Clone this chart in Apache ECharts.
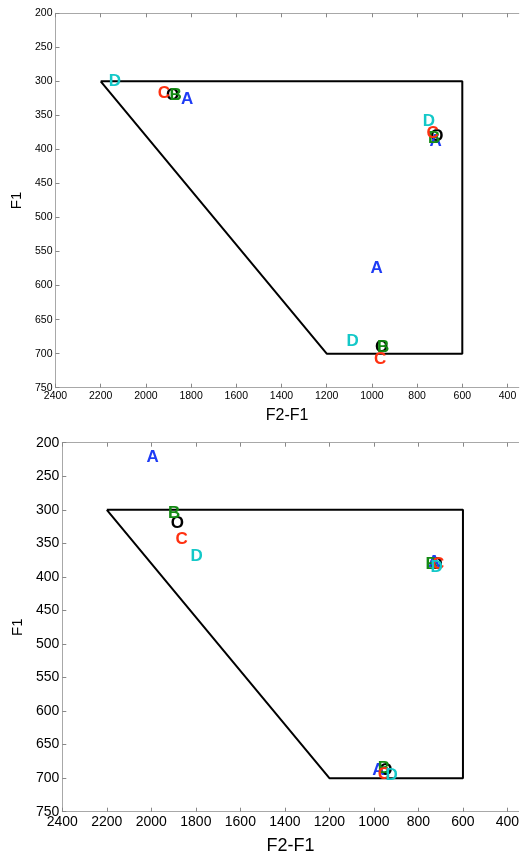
<!DOCTYPE html>
<html>
<head>
<meta charset="utf-8">
<script src="https://cdn.jsdelivr.net/npm/echarts@6/dist/echarts.min.js"></script>
<style>
  html, body { margin: 0; padding: 0; background: #ffffff; }
  #chart { width: 520px; height: 855px; }
</style>
</head>
<body>
<div id="chart"></div>
<script>
// Vowel region boundary in the (F2-F1, F1) plane
const boundaryF2F1 = [2200, 600, 600, 1200, 2200];
const boundaryF1   = [300, 300, 700, 700, 300];

// Tick values
const xTickValues = [400, 600, 800, 1000, 1200, 1400, 1600, 1800, 2000, 2200, 2400];
const yTickValues = [200, 250, 300, 350, 400, 450, 500, 550, 600, 650, 700, 750];

// Speaker labels, drawn in this order
const speakers = ['O', 'A', 'B', 'C', 'D'];

// Upper panel: [F2-F1, F1] for each speaker, three vowels each
const upperO = [[1882, 320], [713, 380], [957, 690]];
const upperA = [[1818, 326], [718, 388], [979, 574]];
const upperB = [[1868, 320], [725, 383], [950, 690]];
const upperC = [[1920, 317], [731, 377], [964, 709]];
const upperD = [[2137, 300], [748, 359], [1085, 682]];

// Lower panel: [F2-F1, F1] for each speaker, three vowels each
const lowerO = [[1883, 320], [721, 382], [946, 688]];
const lowerA = [[1994, 222], [729, 378], [980, 689]];
const lowerB = [[1897, 305], [741, 381], [955, 685]];
const lowerC = [[1864, 344], [711, 381], [955, 694]];
const lowerD = [[1796, 370], [718, 385], [920, 696]];

const speakerColors = {
  O: '#000000',
  A: '#1e3cf5',
  B: '#148a14',
  C: '#ff3010',
  D: '#14c8c8'
};

const upperData = { O: upperO, A: upperA, B: upperB, C: upperC, D: upperD };
const lowerData = { O: lowerO, A: lowerA, B: lowerB, C: lowerC, D: lowerD };

const FONT = '"Liberation Sans", Arial, Helvetica, sans-serif';
const AXIS_GREY = '#a8a8a8';
const TICK_GREY = '#888888';

const plainNumber = v => String(v);

function panelGrid(left, top, width, height) {
  return { left: left, top: top, width: width, height: height, containLabel: false, outerBoundsMode: 'none' };
}

function bottomAxis(gridIndex, labelSize, nameSize, nameGap) {
  return {
    type: 'value', gridIndex: gridIndex, position: 'bottom', inverse: true,
    min: 350, max: 2400,
    name: 'F2-F1', nameLocation: 'middle', nameGap: nameGap,
    nameTextStyle: { fontFamily: FONT, fontSize: nameSize, color: '#000' },
    axisLine: { show: true, onZero: false, lineStyle: { color: AXIS_GREY, width: 1 } },
    axisTick: { show: true, inside: true, length: 4, customValues: xTickValues, lineStyle: { color: TICK_GREY } },
    axisLabel: { show: true, margin: 3, customValues: xTickValues, formatter: plainNumber, fontFamily: FONT, fontSize: labelSize, color: '#000' },
    splitLine: { show: false }
  };
}

function topAxis(gridIndex) {
  return {
    type: 'value', gridIndex: gridIndex, position: 'top', inverse: true,
    min: 350, max: 2400,
    axisLine: { show: true, onZero: false, lineStyle: { color: AXIS_GREY, width: 1 } },
    axisTick: { show: true, inside: true, length: 4, customValues: xTickValues, lineStyle: { color: TICK_GREY } },
    axisLabel: { show: false },
    splitLine: { show: false }
  };
}

function leftAxis(gridIndex, labelSize, nameSize, nameGap) {
  return {
    type: 'value', gridIndex: gridIndex, position: 'left', inverse: true,
    min: 200, max: 750, interval: 50,
    name: 'F1', nameLocation: 'middle', nameGap: nameGap,
    nameTextStyle: { fontFamily: FONT, fontSize: nameSize, color: '#000' },
    axisLine: { show: true, onZero: false, lineStyle: { color: AXIS_GREY, width: 1 } },
    axisTick: { show: true, inside: true, length: 4, customValues: yTickValues, lineStyle: { color: TICK_GREY } },
    axisLabel: { show: true, margin: 3, customValues: yTickValues, formatter: plainNumber, fontFamily: FONT, fontSize: labelSize, color: '#000' },
    splitLine: { show: false }
  };
}

function boundarySeries(xAxisIndex, yAxisIndex) {
  return {
    type: 'line', xAxisIndex: xAxisIndex, yAxisIndex: yAxisIndex,
    data: boundaryF2F1.map((v, i) => [v, boundaryF1[i]]),
    symbol: 'none', clip: false, silent: true,
    lineStyle: { color: '#000', width: 2 }, z: 2
  };
}

function speakerSeries(dataMap, xAxisIndex, yAxisIndex) {
  return speakers.map((s, k) => ({
    type: 'scatter', name: s, xAxisIndex: xAxisIndex, yAxisIndex: yAxisIndex,
    data: dataMap[s], symbolSize: 0, clip: false, silent: true,
    itemStyle: { color: speakerColors[s], opacity: 1 },
    label: {
      show: true, position: 'inside', formatter: s, opacity: 1,
      textBorderWidth: 0, textShadowBlur: 0,
      fontFamily: FONT, fontWeight: 'bold', fontSize: 17, color: speakerColors[s]
    },
    emphasis: { disabled: true },
    z: 3 + k
  }));
}

const chart = echarts.init(document.getElementById('chart'), null, { renderer: 'canvas' });

chart.setOption({
  animation: false,
  backgroundColor: '#ffffff',
  grid: [
    panelGrid(55.5, 13.3, 463.3, 374.4),
    panelGrid(62.3, 442.7, 456.3, 369)
  ],
  xAxis: [
    bottomAxis(0, 10.5, 16, 20),
    topAxis(0),
    bottomAxis(1, 14, 18, 25),
    topAxis(1)
  ],
  yAxis: [
    leftAxis(0, 10.5, 15, 31),
    leftAxis(1, 14, 15, 36)
  ],
  series: [
    boundarySeries(0, 0),
    ...speakerSeries(upperData, 0, 0),
    boundarySeries(2, 1),
    ...speakerSeries(lowerData, 2, 1)
  ]
});
</script>
</body>
</html>
